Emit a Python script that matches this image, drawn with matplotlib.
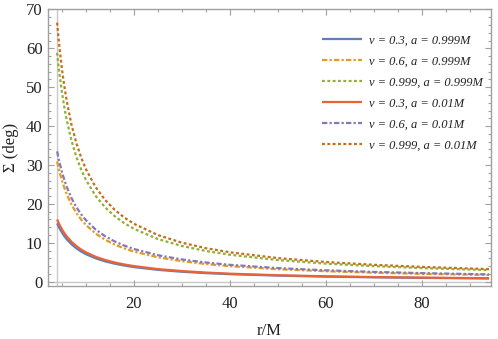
import matplotlib
matplotlib.use("Agg")
import matplotlib.pyplot as plt
from matplotlib.ticker import MultipleLocator

# radius values (r/M) at which values were read
r = [4, 4.25, 4.5, 5, 5.5, 6, 7, 8, 9, 10, 12, 14, 16, 18, 20, 25, 30, 35, 40, 50, 60, 70, 80, 94]

s_v03_a0999 = [15.0, 14.33, 13.72, 12.64, 11.72, 10.92, 9.62, 8.59, 7.76, 7.08, 6.02, 5.23, 4.63,
               4.15, 3.76, 3.05, 2.56, 2.21, 1.94, 1.57, 1.31, 1.13, 0.99, 0.84]
s_v06_a0999 = [30.9, 29.52, 28.26, 26.04, 24.14, 22.50, 19.81, 17.69, 15.98, 14.58, 12.40, 10.78, 9.54,
               8.55, 7.75, 6.28, 5.28, 4.55, 4.00, 3.22, 2.70, 2.32, 2.04, 1.74]
s_v0999_a0999 = [58.84, 55.93, 53.30, 48.71, 44.85, 41.56, 36.24, 32.12, 28.85, 26.18, 22.09, 19.11, 16.84,
                 15.05, 13.60, 10.96, 9.19, 7.90, 6.93, 5.57, 4.65, 4.00, 3.50, 2.98]
s_v03_a001 = [16.0, 15.29, 14.64, 13.49, 12.51, 11.66, 10.26, 9.17, 8.28, 7.55, 6.42, 5.59, 4.94,
              4.43, 4.02, 3.25, 2.74, 2.36, 2.07, 1.67, 1.40, 1.20, 1.05, 0.90]
s_v06_a001 = [33.5, 32.01, 30.65, 28.24, 26.18, 24.40, 21.48, 19.19, 17.34, 15.81, 13.44, 11.69, 10.35,
              9.28, 8.41, 6.81, 5.73, 4.94, 4.34, 3.50, 2.93, 2.52, 2.21, 1.88]
s_v0999_a001 = [66.59, 63.17, 60.08, 54.72, 50.25, 46.44, 40.34, 35.66, 31.95, 28.93, 24.35, 21.01, 18.48,
                16.50, 14.90, 11.99, 10.03, 8.62, 7.56, 6.07, 5.07, 4.35, 3.81, 3.24]

labels = ["v = 0.3, a = 0.999M", "v = 0.6, a = 0.999M", "v = 0.999, a = 0.999M",
          "v = 0.3, a = 0.01M", "v = 0.6, a = 0.01M", "v = 0.999, a = 0.01M"]
series = [s_v03_a0999, s_v06_a0999, s_v0999_a0999, s_v03_a001, s_v06_a001, s_v0999_a001]
colors = ["#5E81B5", "#E19C24", "#8FB032", "#EB6235", "#8778B3", "#C56E1A"]
dashes = [None, (2.4, 1.0, 1.0, 1.0), (1.3, 1.1), None, (2.4, 1.0, 1.0, 1.0), (1.3, 1.1)]

serif = ["Liberation Serif", "DejaVu Serif"]

fig = plt.figure(figsize=(4.98, 3.39), dpi=100)
ax = fig.add_axes([48/498, 1-286/339, (491-48)/498, (286-9)/339])

ax.axvline(4, color="#c8c8c8", lw=1.0, zorder=1)
ax.axhline(0, color="#c8c8c8", lw=1.0, zorder=1)

handles = []
for ys, c, d, lab in zip(series, colors, dashes, labels):
    if d is None:
        ln, = ax.plot(r, ys, color=c, lw=1.6, label=lab, zorder=3, solid_capstyle="butt")
    else:
        ln, = ax.plot(r, ys, color=c, lw=1.6, label=lab, zorder=3, dashes=d, dash_capstyle="butt")
    handles.append(ln)

ax.set_xlim(2.1, 94.4)
ax.set_ylim(-1.1, 70.1)
ax.xaxis.set_major_locator(MultipleLocator(20))
ax.xaxis.set_minor_locator(MultipleLocator(5))
ax.yaxis.set_major_locator(MultipleLocator(10))
ax.yaxis.set_minor_locator(MultipleLocator(2))

for sp in ax.spines.values():
    sp.set_color("#a0a0a0")
    sp.set_linewidth(1.0)

ax.tick_params(which="both", direction="in", top=True, right=True, color="#a0a0a0", width=0.8)
ax.tick_params(which="major", length=4)
ax.tick_params(which="minor", length=2)
ax.tick_params(axis="x", which="major", pad=7)
ax.tick_params(axis="y", which="major", pad=4)

for lab in ax.get_xticklabels() + ax.get_yticklabels():
    lab.set_family(serif)
    lab.set_fontsize(12)
    lab.set_color("#222222")

ax.set_xlabel("r/M", family=serif, fontsize=12, color="#222222", labelpad=8)
ax.set_ylabel("Σ (deg)", family=serif, fontsize=12, color="#222222", labelpad=5)

leg = ax.legend(handles=handles, loc="upper left",
                bbox_to_anchor=(322/498, 1-34.5/339), bbox_transform=fig.transFigure,
                frameon=False, borderpad=0, borderaxespad=0,
                handlelength=3.2, handletextpad=0.56, labelspacing=0.72,
                prop={"family": serif, "style": "italic", "size": 9})
for t in leg.get_texts():
    t.set_color("#222222")

fig.savefig("out.png", dpi=100)
